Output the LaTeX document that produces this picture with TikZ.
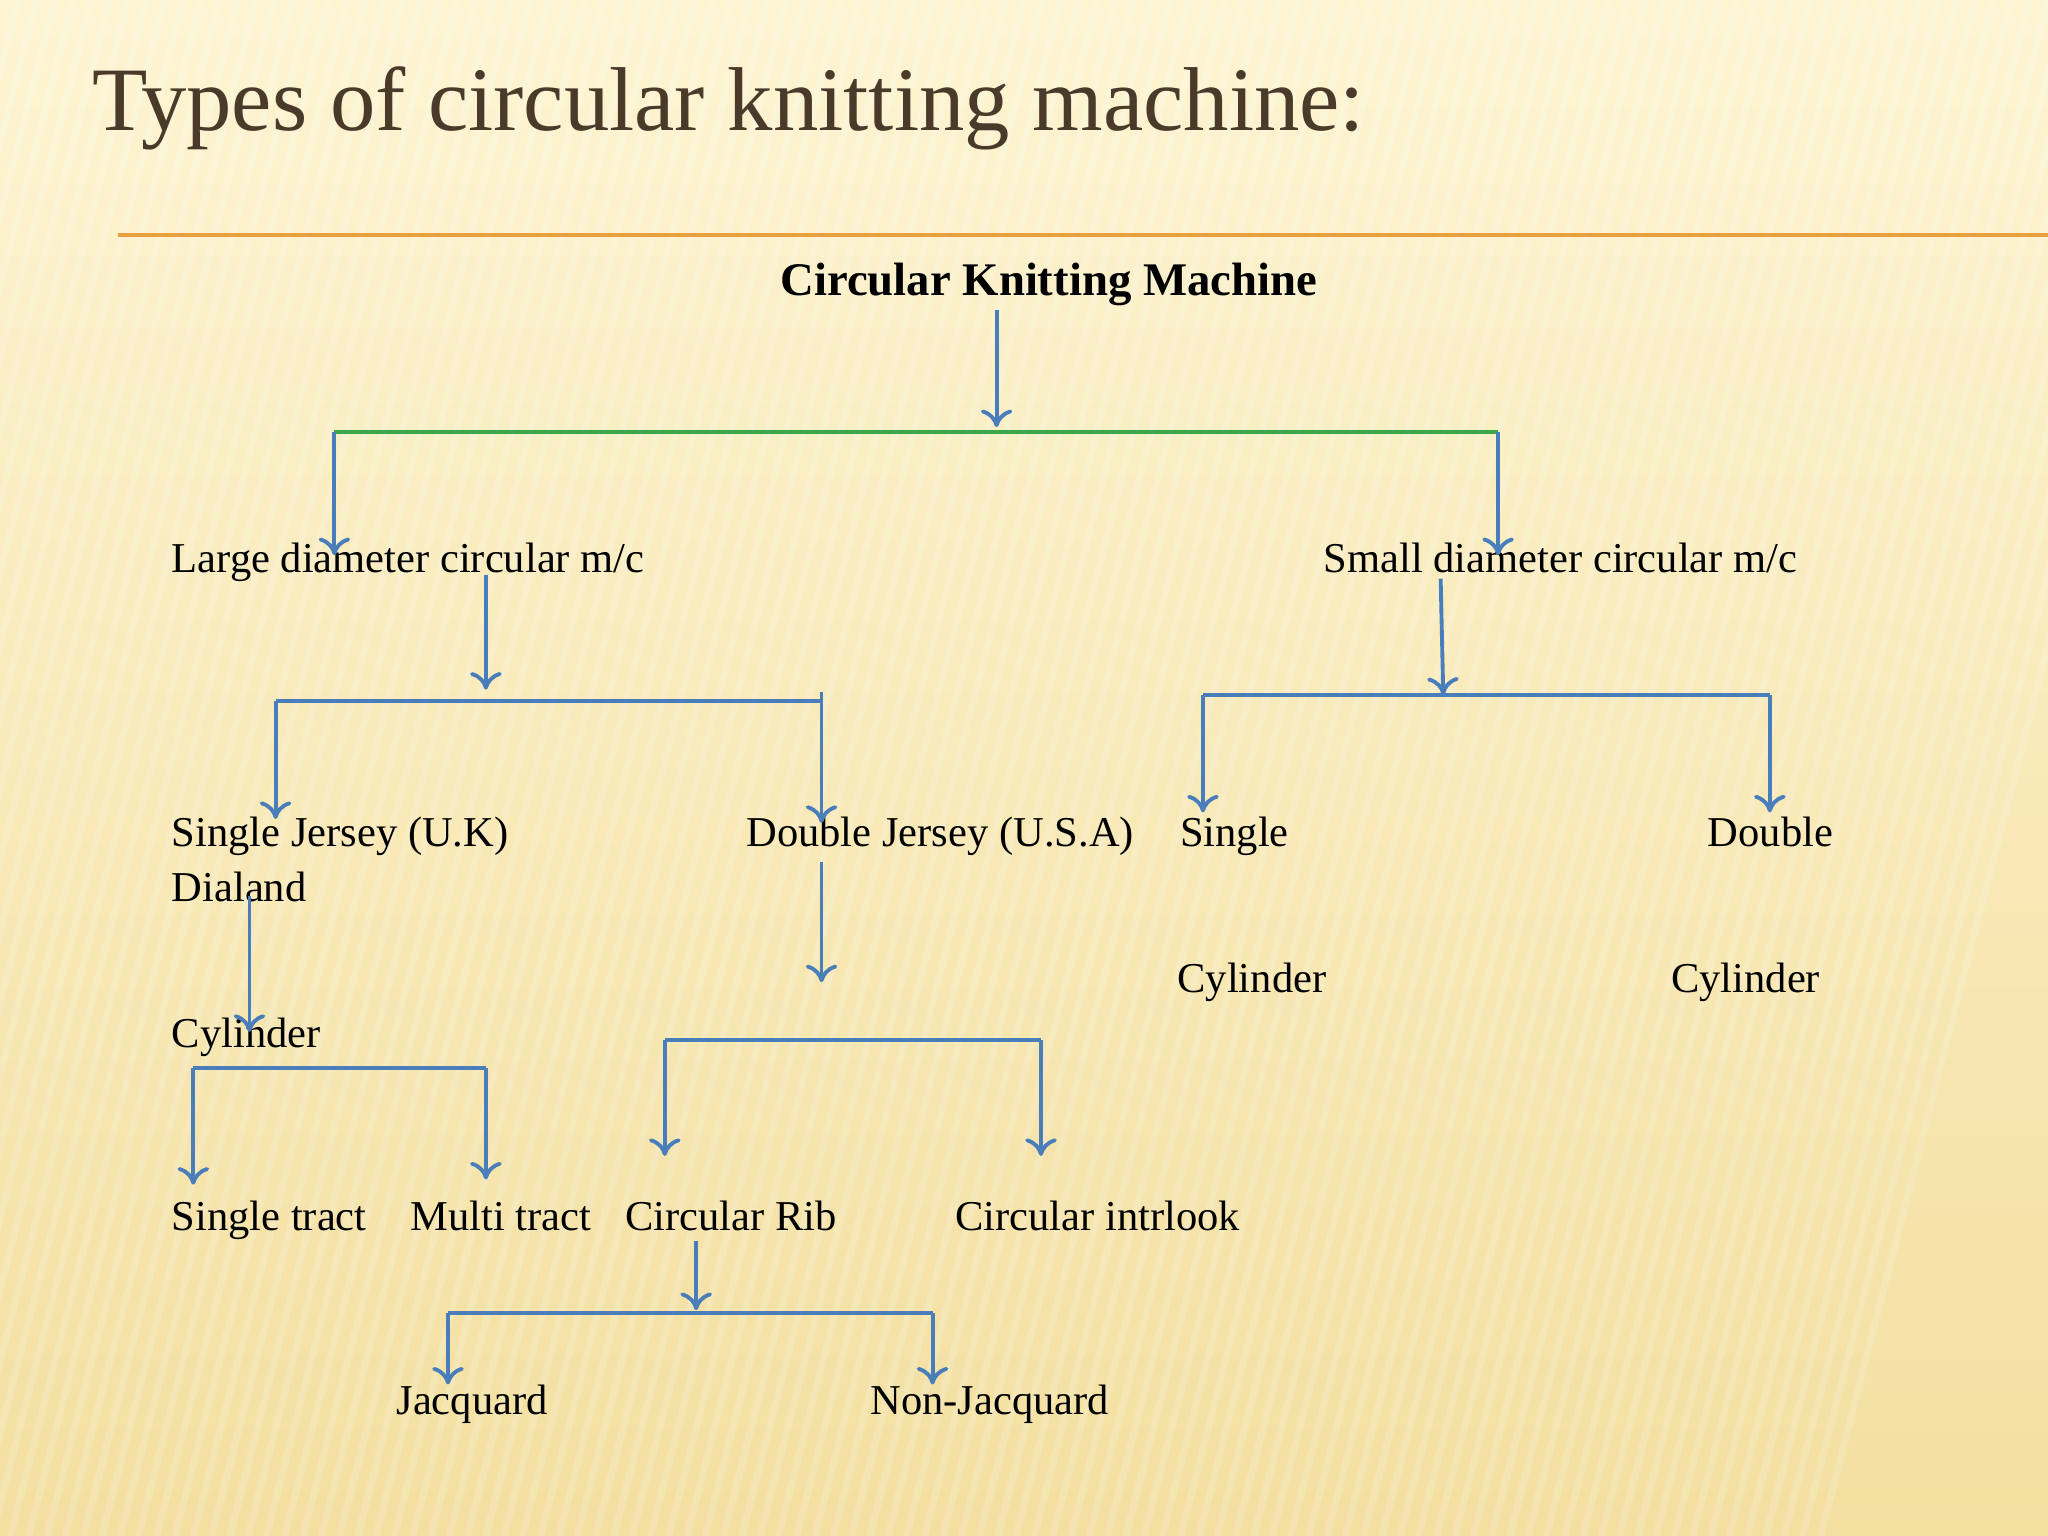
\documentclass[tikz,border=0pt]{standalone}
\usepackage{fontspec}
\setmainfont{Liberation Serif}
\usetikzlibrary{arrows.meta}
\definecolor{bgA}{HTML}{FDF4D2}
\definecolor{bgB}{HTML}{F3DFA0}
\definecolor{arr}{HTML}{4A7EBB}
\definecolor{grn}{HTML}{3DA84A}
\definecolor{ttl}{HTML}{4A3A2A}
\definecolor{orl}{HTML}{E8A040}
\tikzset{
  lbl/.style={anchor=base west, inner sep=0pt, font=\fontsize{12.1}{14}\selectfont},
  con/.style={draw=arr, line width=1.1pt},
  arw/.style={con, -{To[length=5pt,width=9pt]}},
}
\begin{document}
\begin{tikzpicture}[x=0.013061cm,y=-0.013061cm]
\useasboundingbox (0,0) rectangle (1568,1176);
\shade[top color=bgA, bottom color=bgB] (0,0) rectangle (1568,1176);
\foreach \i in {0,14,...,1700} {\draw[white, opacity=0.18, line width=2pt] (\i,0) -- (\i-300,1176);}
\node[anchor=base west, inner sep=0pt, text=ttl, font=\fontsize{25.8}{30}\selectfont] (title) at (70,100) {Types of circular knitting machine:};
\coordinate (l1) at (90,180); \coordinate (l2) at (1568,180);
\draw[orl, line width=1.2pt] (l1) -- (l2);

\node[anchor=base, inner sep=0pt, font=\bfseries\fontsize{13.3}{15}\selectfont] (root) at (803,226) {Circular Knitting Machine};
\node[lbl] (large) at (131,438) {Large diameter circular m/c};
\node[lbl] (small) at (1013,438) {Small diameter circular m/c};
\node[lbl] (sj) at (131,648) {Single Jersey (U.K)};
\node[lbl] (dial) at (131,690) {Dialand};
\node[lbl] (dj) at (571,648) {Double Jersey (U.S.A)};
\node[lbl] (sg) at (903,648) {Single};
\node[lbl] (db) at (1307,648) {Double};
\node[lbl] (cy1) at (901,760) {Cylinder};
\node[lbl] (cy2) at (1279,760) {Cylinder};
\node[lbl] (cy0) at (131,802) {Cylinder};
\node[lbl] (st) at (131,942) {Single tract};
\node[lbl] (mt) at (314,942) {Multi tract};
\node[lbl] (cr) at (478,942) {Circular Rib};
\node[lbl] (ci) at (731,942) {Circular intrlook};
\node[lbl] (jq) at (303,1083) {Jacquard};
\node[lbl] (njq) at (666,1083) {Non-Jacquard};

% level 1
\coordinate (a1) at (763,237); \coordinate (a2) at (763,327);
\draw[arw] (a1) -- (a2);
\coordinate (g1) at (256,331); \coordinate (g2) at (1147,331);
\draw[draw=grn, line width=1.1pt] (g1) -- (g2);
\coordinate (g1b) at (256,425); \coordinate (g2b) at (1147,425);
\draw[arw] (g1) -- (g1b);
\draw[arw] (g2) -- (g2b);
% large
\coordinate (b1) at (372,440); \coordinate (b2) at (372,528);
\draw[arw] (b1) -- (b2);
\coordinate (h1) at (211,537); \coordinate (h2) at (629,537); \coordinate (h2t) at (629,530);
\draw[con] (h1) -- (h2);
\coordinate (h1b) at (211,627); \coordinate (h2b) at (629,630);
\draw[arw] (h1) -- (h1b);
\draw[arw] (h2t) -- (h2b);
% small
\coordinate (c1) at (1103,443); \coordinate (c2) at (1105,532);
\draw[arw] (c1) -- (c2);
\coordinate (k1) at (921,532); \coordinate (k2) at (1355,532);
\draw[con] (k1) -- (k2);
\coordinate (k1b) at (921,622); \coordinate (k2b) at (1355,622);
\draw[arw] (k1) -- (k1b);
\draw[arw] (k2) -- (k2b);
% single jersey branch
\coordinate (d1) at (191,686); \coordinate (d2) at (191,790);
\draw[arw] (d1) -- (d2);
\coordinate (m1) at (148,818); \coordinate (m2) at (372,818);
\draw[con] (m1) -- (m2);
\coordinate (m1b) at (148,907); \coordinate (m2b) at (372,903);
\draw[arw] (m1) -- (m1b);
\draw[arw] (m2) -- (m2b);
% double jersey branch
\coordinate (e1) at (629,660); \coordinate (e2) at (629,752);
\draw[arw] (e1) -- (e2);
\coordinate (n1) at (509,796); \coordinate (n2) at (797,796);
\draw[con] (n1) -- (n2);
\coordinate (n1b) at (509,885); \coordinate (n2b) at (797,885);
\draw[arw] (n1) -- (n1b);
\draw[arw] (n2) -- (n2b);
% circular rib
\coordinate (f1) at (533,950); \coordinate (f2) at (533,1003);
\draw[arw] (f1) -- (f2);
\coordinate (p1) at (343,1005); \coordinate (p2) at (714,1005);
\draw[con] (p1) -- (p2);
\coordinate (p1b) at (343,1060); \coordinate (p2b) at (714,1060);
\draw[arw] (p1) -- (p1b);
\draw[arw] (p2) -- (p2b);
\end{tikzpicture}
\end{document}
